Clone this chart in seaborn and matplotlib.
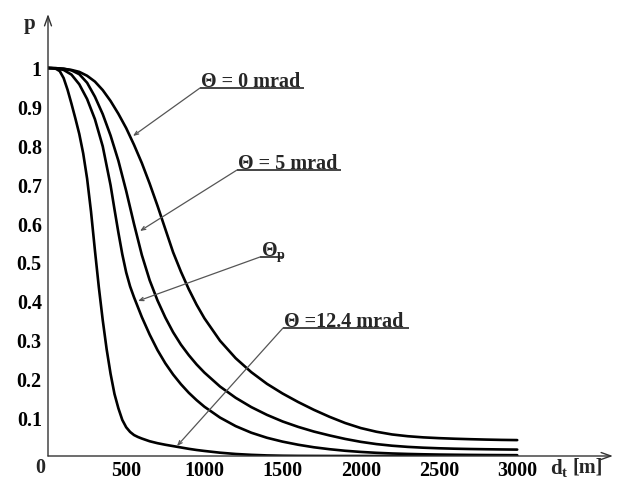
import matplotlib
matplotlib.use("Agg")
import matplotlib.pyplot as plt
import pandas as pd
import seaborn as sns

# Probability p versus distance d_t [m] for several beam divergences
d_theta0 = [0, 50, 100, 150, 200, 250, 300, 350, 400, 450, 500, 550, 600, 650,
            700, 750, 800, 850, 900, 950, 1000, 1100, 1200, 1300, 1400, 1500,
            1600, 1700, 1800, 1900, 2000, 2100, 2200, 2300, 2400, 2500, 2600,
            2700, 2800, 2900, 3000]
p_theta0 = [1.0, 0.9995, 0.998, 0.995, 0.99, 0.98, 0.965, 0.943, 0.915, 0.882,
            0.845, 0.802, 0.755, 0.702, 0.645, 0.585, 0.525, 0.475, 0.43, 0.39,
            0.355, 0.297, 0.252, 0.216, 0.186, 0.161, 0.139, 0.119, 0.101,
            0.085, 0.072, 0.0625, 0.0555, 0.051, 0.048, 0.046, 0.0445, 0.0433,
            0.0423, 0.0415, 0.041]

d_theta5 = d_theta0
p_theta5 = [1.0, 0.9995, 0.998, 0.994, 0.984, 0.962, 0.926, 0.881, 0.826, 0.761,
            0.683, 0.598, 0.518, 0.453, 0.401, 0.357, 0.319, 0.287, 0.26, 0.236,
            0.215, 0.179, 0.15, 0.126, 0.106, 0.089, 0.075, 0.063, 0.053, 0.044,
            0.0365, 0.0307, 0.0265, 0.0235, 0.0214, 0.0199, 0.0188, 0.018,
            0.0174, 0.0169, 0.0165]

d_thetap = [0, 50, 100, 150, 200, 250, 300, 350, 400, 425, 450, 475, 500, 525,
            550, 600, 650, 700, 750, 800, 850, 900, 950, 1000, 1100, 1200, 1300,
            1400, 1500, 1600, 1700, 1800, 1900, 2000, 2100, 2200, 2300, 2400,
            2500, 2600, 2700, 2800, 2900, 3000]
p_thetap = [1.0, 0.999, 0.995, 0.983, 0.958, 0.92, 0.868, 0.798, 0.698, 0.636,
            0.576, 0.52, 0.473, 0.437, 0.409, 0.358, 0.313, 0.273, 0.239, 0.21,
            0.185, 0.163, 0.144, 0.127, 0.099, 0.077, 0.06, 0.047, 0.037, 0.029,
            0.0225, 0.0175, 0.0135, 0.0105, 0.0082, 0.0065, 0.0053, 0.0044,
            0.0037, 0.0032, 0.0028, 0.0025, 0.0023, 0.0021]

d_theta124 = [0, 25, 50, 75, 100, 125, 150, 175, 200, 225, 250, 275, 300, 325,
              350, 375, 400, 425, 450, 475, 500, 525, 550, 575, 600, 650, 700,
              750, 800, 850, 900, 950, 1000, 1100, 1200, 1300, 1400, 1500, 1600,
              1800, 2000, 2500, 3000]
p_theta124 = [1.0, 0.9995, 0.998, 0.992, 0.974, 0.944, 0.908, 0.87, 0.83, 0.78,
              0.715, 0.63, 0.53, 0.435, 0.35, 0.275, 0.212, 0.16, 0.123, 0.093,
              0.074, 0.062, 0.054, 0.049, 0.045, 0.038, 0.033, 0.029, 0.0255,
              0.022, 0.0185, 0.0155, 0.013, 0.0085, 0.0052, 0.003, 0.0015,
              0.0007, 0.0003, 0.0, 0.0, 0.0, 0.0]

curve_names = ["theta0", "theta5", "thetap", "theta124"]
x_ticks = [500, 1000, 1500, 2000, 2500, 3000]
x_tick_labels = ["500", "1000", "1500", "2000", "2500", "3000"]
y_ticks = [0.1, 0.2, 0.3, 0.4, 0.5, 0.6, 0.7, 0.8, 0.9, 1.0]
y_tick_labels = ["0.1", "0.2", "0.3", "0.4", "0.5", "0.6", "0.7", "0.8", "0.9", "1"]
label_texts = ["\u0398 = 0 mrad", "\u0398 = 5 mrad", r"$\Theta_{\mathrm{p}}$",
               "\u0398 =12.4 mrad"]

frames = []
for name, d, p in zip(curve_names,
                      [d_theta0, d_theta5, d_thetap, d_theta124],
                      [p_theta0, p_theta5, p_thetap, p_theta124]):
    frames.append(pd.DataFrame({"curve": name, "d": d, "p": p}))
df = pd.concat(frames, ignore_index=True)

sns.set_style("white")
plt.rcParams["font.family"] = ["Liberation Serif", "DejaVu Serif"]
plt.rcParams["font.weight"] = "bold"
plt.rcParams["mathtext.fontset"] = "custom"
plt.rcParams["mathtext.rm"] = "Liberation Serif:bold"
plt.rcParams["mathtext.it"] = "Liberation Serif:bold"
plt.rcParams["mathtext.bf"] = "Liberation Serif:bold"

W, H = 617, 481
X0, Y0 = 48, 457          # origin in figure pixels
SX, SY = 0.1564, 388.0    # pixels per metre / per unit of p
XMAX, YMAX = 3612, 1.139  # arrow tips of the axes

fig = plt.figure(figsize=(W / 100, H / 100), dpi=100)
ax = fig.add_axes([X0 / W, (H - Y0) / H, XMAX * SX / W, YMAX * SY / H])


def fx(px):
    return (px - X0) / SX


def fy(py):
    return (Y0 - py) / SY


sns.lineplot(data=df, x="d", y="p", hue="curve", units="curve",
             palette=["black"] * 4, estimator=None, sort=False,
             legend=False, lw=1.9, ax=ax)

ax.set_xlim(0, XMAX)
ax.set_ylim(0, YMAX)
for s in ax.spines.values():
    s.set_visible(False)
ax.set_xlabel("")
ax.set_ylabel("")

ax.set_xticks(x_ticks)
ax.set_xticklabels(x_tick_labels)
ax.set_yticks(y_ticks)
ax.set_yticklabels(y_tick_labels)
ax.tick_params(direction="inout", length=5, width=1, color="#333333",
               labelsize=14.5, labelcolor="black")
ax.tick_params(axis="x", pad=0.5)
ax.tick_params(axis="y", pad=2)
for lab in ax.get_xticklabels() + ax.get_yticklabels():
    lab.set_fontweight("bold")

# axis lines with open arrowheads
arrow_kw = dict(arrowstyle="->,head_length=0.7,head_width=0.25", lw=1.0,
                color="#333333", shrinkA=0, shrinkB=0)
ax.annotate("", xy=(XMAX, 0), xytext=(0, 0), arrowprops=arrow_kw,
            annotation_clip=False)
ax.annotate("", xy=(0, YMAX), xytext=(0, 0), arrowprops=arrow_kw,
            annotation_clip=False)

ax.text(fx(40), fy(468), "0", ha="center", va="center", fontsize=14.5,
        fontweight="bold", clip_on=False)
ax.text(fx(30), fy(24), "p", ha="center", va="center", fontsize=15,
        fontweight="bold", clip_on=False)
ax.text(fx(550), fy(468), r"$d_{t}$", ha="left", va="center", fontsize=15,
        clip_on=False)
ax.text(fx(572), fy(468), "[m]", ha="left", va="center", fontsize=14.5,
        fontweight="bold", clip_on=False)

# curve labels: text, underline and leader to the curve
label_boxes = [
    # (underline left px, underline right px, underline y px, tip x px, tip y px)
    (200, 304, 89, 133, 137),
    (237, 341, 171, 140, 232),
    (260, 284, 258, 138, 302),
    (283, 409, 329, 177, 447),
]
for text, (ux0, ux1, uy, tx, ty) in zip(label_texts, label_boxes):
    ax.text(fx(ux0 + 1), fy(uy - 2), text, ha="left", va="baseline",
            fontsize=14.5, fontweight="bold", clip_on=False)
    ax.plot([fx(ux0), fx(ux1)], [fy(uy), fy(uy)], color="#444444", lw=1.4,
            clip_on=False, solid_capstyle="butt")
    ax.annotate("", xy=(fx(tx), fy(ty)), xytext=(fx(ux0), fy(uy)),
                arrowprops=dict(arrowstyle="->,head_length=0.3,head_width=0.12",
                                lw=0.9, color="#555555", shrinkA=0, shrinkB=0),
                annotation_clip=False)

fig.savefig("out.png", dpi=100)
